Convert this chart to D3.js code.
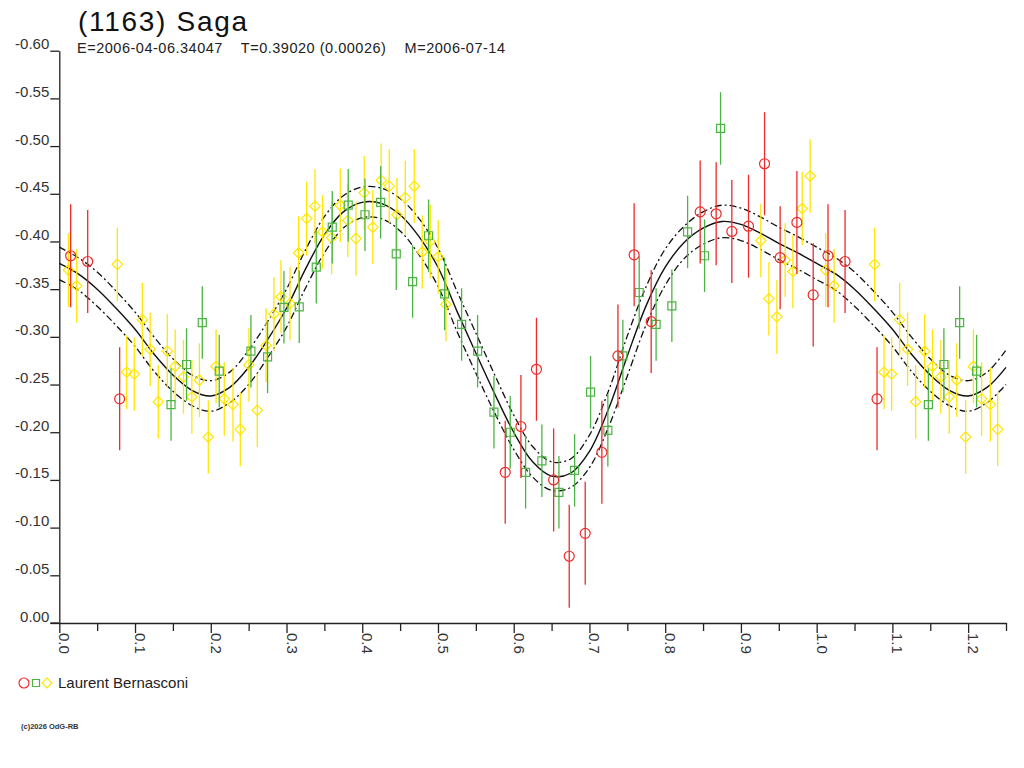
<!DOCTYPE html>
<html><head><meta charset="utf-8">
<script src="https://cdn.jsdelivr.net/npm/d3@7"></script>
<style>
body{margin:0;background:#fff;}
svg{display:block;}
text{font-family:"Liberation Sans",Arial,Helvetica,sans-serif;}
</style>
</head><body>
<svg id="chart" width="1024" height="768"></svg>
<script>
// ---------- texts ----------
const titleText = "(1163) Saga";
const subtitleText = "E=2006-04-06.34047    T=0.39020 (0.00026)    M=2006-07-14";
const observerName = "Laurent Bernasconi";
const copyrightText = "(c)2026 OdG-RB";

// ---------- axes ----------
const yTickValues = [0, -0.05, -0.10, -0.15, -0.20, -0.25, -0.30, -0.35, -0.40, -0.45, -0.50, -0.55, -0.60];
const yTickLabels = ["0.00", "-0.05", "-0.10", "-0.15", "-0.20", "-0.25", "-0.30", "-0.35", "-0.40", "-0.45", "-0.50", "-0.55", "-0.60"];
const xTickValues = [0, 0.05, 0.1, 0.15, 0.2, 0.25, 0.3, 0.35, 0.4, 0.45, 0.5, 0.55, 0.6, 0.65, 0.7, 0.75, 0.8, 0.85, 0.9, 0.95, 1.0, 1.05, 1.1, 1.15, 1.2, 1.25];
const xLabelValues = [0, 0.1, 0.2, 0.3, 0.4, 0.5, 0.6, 0.7, 0.8, 0.9, 1.0, 1.1, 1.2];
const xTickLabels = ["0.0", "0.1", "0.2", "0.3", "0.4", "0.5", "0.6", "0.7", "0.8", "0.9", "1.0", "1.1", "1.2"];
const phaseMax = 1.25;

// ---------- observations (phase, relative magnitude) ----------
// red circles
const redPhase = [0.015, 0.0375, 0.0797, 0.5888, 0.6095, 0.630, 0.6527, 0.6733, 0.6944, 0.7164, 0.7376, 0.759, 0.7815, 0.8462, 0.8673, 0.888, 0.910, 0.9312, 0.9518, 0.9739, 0.9954];
const redMag   = [-0.385, -0.379, -0.235, -0.158, -0.206, -0.266, -0.150, -0.070, -0.094, -0.179, -0.280, -0.386, -0.316, -0.431, -0.429, -0.4105, -0.416, -0.4815, -0.383, -0.420, -0.344];
const redErr = 0.054;

// green squares
const greenPhase = [0.1475, 0.168, 0.1888, 0.2112, 0.253, 0.275, 0.2966, 0.3168, 0.3393, 0.3604, 0.3815, 0.4036, 0.4243, 0.4449, 0.4665, 0.4876, 0.5088, 0.5312, 0.5523, 0.5739, 0.5954, 0.6157, 0.6372, 0.6597, 0.6804, 0.7015, 0.7243, 0.7441, 0.7657, 0.788, 0.8088, 0.8296, 0.852, 0.8731];
const greenMag   = [-0.229, -0.271, -0.315, -0.264, -0.285, -0.279, -0.331, -0.3315, -0.373, -0.415, -0.438, -0.428, -0.441, -0.387, -0.358, -0.406, -0.345, -0.313, -0.285, -0.221, -0.200, -0.158, -0.170, -0.137, -0.160, -0.242, -0.202, -0.280, -0.3465, -0.313, -0.3325, -0.410, -0.385, -0.5185];
const greenErr = 0.038;

// yellow diamonds
const yellowPhase = [0.012, 0.023, 0.0766, 0.089, 0.099, 0.1096, 0.120, 0.1307, 0.1426, 0.153, 0.164, 0.175, 0.185, 0.1967, 0.207, 0.2178, 0.2293, 0.239, 0.2504, 0.2614, 0.273, 0.2834, 0.2927, 0.3046, 0.316, 0.3266, 0.3376, 0.3477, 0.3596, 0.371, 0.381, 0.3917, 0.4026, 0.414, 0.425, 0.4356, 0.4458, 0.4568, 0.4687, 0.4792, 0.4898, 0.5003, 0.5105, 0.9263, 0.9369, 0.9475, 0.9584, 0.9686, 0.9809, 0.9914];
const yellowMag   = [-0.370, -0.3535, -0.376, -0.263, -0.261, -0.318, -0.287, -0.232, -0.285, -0.269, -0.258, -0.237, -0.2546, -0.195, -0.269, -0.235, -0.229, -0.203, -0.2706, -0.223, -0.291, -0.324, -0.342, -0.335, -0.388, -0.424, -0.437, -0.410, -0.404, -0.438, -0.422, -0.403, -0.451, -0.415, -0.464, -0.458, -0.428, -0.446, -0.458, -0.389, -0.400, -0.384, -0.334, -0.401, -0.340, -0.321, -0.3805, -0.3685, -0.4346, -0.4686];
const yellowErr = 0.0386;

// ---------- fitted curve ----------
const fitPhase = [0.000, 0.025, 0.050, 0.075, 0.100, 0.125, 0.150, 0.175, 0.200, 0.225, 0.250, 0.275, 0.300, 0.325, 0.350, 0.375, 0.400, 0.425, 0.450, 0.475, 0.500, 0.525, 0.550, 0.575, 0.600, 0.625, 0.650, 0.675, 0.700, 0.725, 0.750, 0.775, 0.800, 0.825, 0.850, 0.875, 0.900, 0.925, 0.950, 0.975];
const fitMag   = [-0.377, -0.366, -0.350, -0.330, -0.308, -0.282, -0.260, -0.244, -0.238, -0.247, -0.268, -0.297, -0.330, -0.371, -0.407, -0.431, -0.441, -0.440, -0.428, -0.405, -0.373, -0.327, -0.283, -0.240, -0.200, -0.169, -0.154, -0.157, -0.180, -0.224, -0.280, -0.333, -0.373, -0.399, -0.414, -0.421, -0.418, -0.409, -0.398, -0.388];
const fitSigma = [0.017, 0.017, 0.018, 0.018, 0.018, 0.018, 0.017, 0.016, 0.016, 0.016, 0.018, 0.019, 0.020, 0.020, 0.019, 0.017, 0.016, 0.016, 0.017, 0.019, 0.020, 0.021, 0.021, 0.020, 0.018, 0.016, 0.015, 0.015, 0.017, 0.019, 0.021, 0.020, 0.019, 0.017, 0.017, 0.017, 0.017, 0.017, 0.017, 0.017];

// ---------- colours ----------
const colRed = "#ee2a2a", colGreen = "#4cb444", colYellow = "#ffe600", colInk = "#222";

const svg = d3.select("#chart");
const x = d3.scaleLinear().domain([0, phaseMax]).range([59.3, 1006]);
const y = d3.scaleLinear().domain([0, -0.60]).range([623, 50.7]);

// ---------- titles ----------
svg.append("text").attr("x", 78).attr("y", 31).attr("font-size", 28).attr("fill", "#111")
  .attr("textLength", 169).attr("lengthAdjust", "spacing").text(titleText);
svg.append("text").attr("x", 77).attr("y", 53).attr("font-size", 14.5).attr("fill", colInk)
  .attr("xml:space", "preserve").style("white-space", "pre")
  .attr("textLength", 428).attr("lengthAdjust", "spacing").text(subtitleText);

// ---------- y axis ----------
const yAxis = d3.axisLeft(y).tickValues(yTickValues).tickSize(9).tickSizeOuter(0)
  .tickFormat((d, i) => yTickLabels[i]);
const gy = svg.append("g").attr("transform", `translate(${x(0)},0)`).call(yAxis);
gy.select(".domain").attr("stroke", colInk).attr("stroke-width", 1.3);
gy.selectAll(".tick line").attr("stroke", colInk).attr("stroke-width", 1.3);
gy.selectAll(".tick text").attr("font-size", 15).attr("fill", "#333")
  .attr("font-family", '"Liberation Sans",Arial,sans-serif')
  .attr("x", -10).attr("dy", "-0.13em").attr("text-anchor", "end");

// ---------- x axis ----------
const xAxis = d3.axisBottom(x).tickValues(xTickValues).tickSize(8).tickSizeOuter(0).tickFormat("");
const gx = svg.append("g").attr("transform", `translate(0,${y(0)})`).call(xAxis);
gx.select(".domain").attr("stroke", colInk).attr("stroke-width", 1.3);
gx.selectAll(".tick line").attr("stroke", colInk).attr("stroke-width", 1.3)
  .attr("y2", d => xLabelValues.some(v => Math.abs(v - d) < 1e-9) ? 10 : 8);
svg.append("line").attr("x1", x(0) - 9).attr("x2", x(0)).attr("y1", y(0)).attr("y2", y(0))
  .attr("stroke", colInk).attr("stroke-width", 1.3);
svg.append("g").selectAll("text").data(xLabelValues).join("text")
  .attr("transform", d => `translate(${x(d)},${y(0) + 10}) rotate(90)`)
  .attr("font-size", 15).attr("fill", "#333").attr("text-anchor", "start")
  .text((d, i) => xTickLabels[i]);

// ---------- fit curves ----------
function wrapPts(ph, val) {
  const pts = ph.map((p, i) => [p, val[i]]);
  const out = pts.slice();
  pts.forEach(p => { if (p[0] + 1 <= phaseMax + 1e-9) out.push([p[0] + 1, p[1]]); });
  return out.sort((a, b) => a[0] - b[0]).filter((p, i, arr) => i === 0 || p[0] !== arr[i - 1][0]);
}
const upper = fitMag.map((m, i) => m - fitSigma[i]);
const lower = fitMag.map((m, i) => m + fitSigma[i]);
const line = d3.line().x(d => x(d[0])).y(d => y(d[1])).curve(d3.curveCatmullRom.alpha(0.5));
svg.append("path").attr("d", line(wrapPts(fitPhase, fitMag))).attr("fill", "none")
  .attr("stroke", "#111").attr("stroke-width", 1.4);
[upper, lower].forEach(arr => {
  svg.append("path").attr("d", line(wrapPts(fitPhase, arr))).attr("fill", "none")
    .attr("stroke", "#111").attr("stroke-width", 1.3).attr("stroke-dasharray", "7,3,2,3");
});

// ---------- observations ----------
function series(ph, mag) {
  const pts = ph.map((p, i) => ({p: p, m: mag[i]}));
  const rep = pts.filter(d => d.p + 1 <= phaseMax).map(d => ({p: d.p + 1, m: d.m}));
  return pts.concat(rep);
}
function drawSeries(ph, mag, err, color, shape) {
  const data = series(ph, mag);
  const g = svg.append("g");
  g.selectAll("line").data(data).join("line")
    .attr("x1", d => x(d.p)).attr("x2", d => x(d.p))
    .attr("y1", d => y(d.m - err)).attr("y2", d => y(d.m + err))
    .attr("stroke", color).attr("stroke-width", 1.3);
  const mk = g.selectAll("path").data(data).join("path")
    .attr("fill", "none").attr("stroke", color).attr("stroke-width", 1.2);
  if (shape === "circle") mk.attr("d", d => d3.symbol(d3.symbolCircle, Math.PI * 25)());
  if (shape === "square") mk.attr("d", d => "M-4,-4H4V4H-4Z");
  if (shape === "diamond") mk.attr("d", d => "M0,-5.2L5.2,0L0,5.2L-5.2,0Z");
  mk.attr("transform", d => `translate(${x(d.p)},${y(d.m)})`);
}
drawSeries(yellowPhase, yellowMag, yellowErr, colYellow, "diamond");
drawSeries(greenPhase, greenMag, greenErr, colGreen, "square");
drawSeries(redPhase, redMag, redErr, colRed, "circle");

// ---------- legend ----------
const lg = svg.append("g");
lg.append("circle").attr("cx", 24).attr("cy", 683).attr("r", 5).attr("fill", "none").attr("stroke", colRed).attr("stroke-width", 1.2);
lg.append("path").attr("d", "M32.5,679.5H39.5V686.5H32.5Z").attr("fill", "none").attr("stroke", colGreen).attr("stroke-width", 1.2);
lg.append("path").attr("d", "M47,678L52,683L47,688L42,683Z").attr("fill", "none").attr("stroke", colYellow).attr("stroke-width", 1.2);
lg.append("text").attr("x", 58).attr("y", 688).attr("font-size", 15).attr("fill", colInk).text(observerName);

// ---------- copyright ----------
svg.append("text").attr("x", 21).attr("y", 729).attr("font-size", 7.5).attr("font-weight", "bold")
  .attr("fill", "#333").text(copyrightText);
</script>
</body></html>
